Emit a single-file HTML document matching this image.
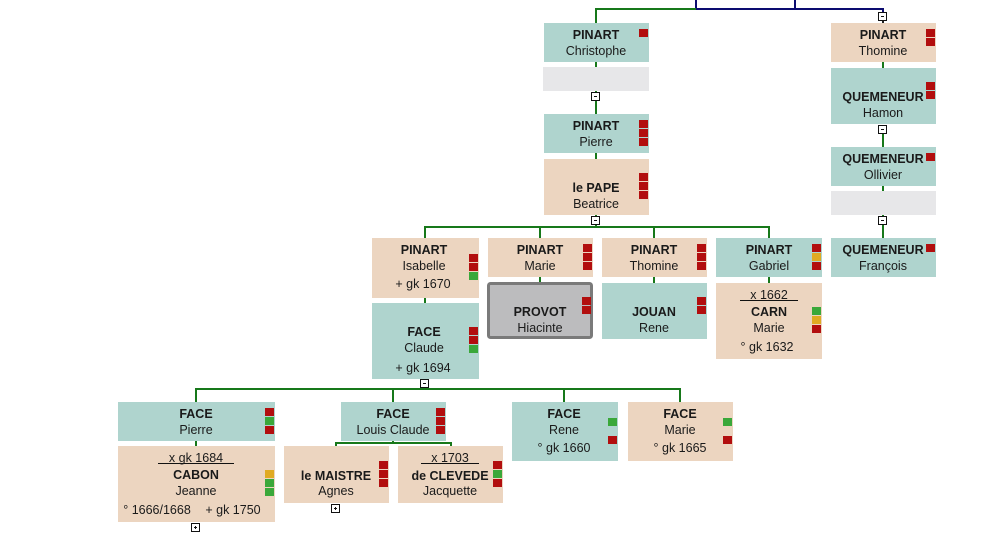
<!DOCTYPE html>
<html><head><meta charset="utf-8">
<style>
html,body{margin:0;padding:0;background:#fff;}
svg{display:block;}
text{font-family:"Liberation Sans",Arial,sans-serif;font-size:12.5px;fill:#1a1a1a;}
.b{font-weight:bold;}
.t{fill:#afd4ce;}
.e{fill:#ecd5c0;}
.g{fill:#e7e7e9;}
.r{fill:#b20e0e;}
.gr{fill:#3aa83a;}
.o{fill:#e0aa22;}
.ln{fill:#17781a;}
.nv{fill:#0c0c70;}
</style></head><body>
<svg width="998" height="540" viewBox="0 0 998 540" xmlns="http://www.w3.org/2000/svg">
<!-- navy lines -->
<rect class="nv" x="695" y="0" width="2" height="10"/>
<rect class="nv" x="794" y="0" width="2" height="10"/>
<rect class="nv" x="695" y="8" width="189" height="2"/>
<rect class="nv" x="882" y="9" width="2" height="4"/>
<rect fill="#222" x="882" y="20" width="2" height="3"/>
<!-- green lines -->
<rect class="ln" x="595" y="8" width="101" height="2"/>
<rect class="ln" x="595" y="9" width="2" height="14"/>
<rect class="ln" x="595" y="62" width="2" height="5"/>
<rect class="ln" x="595" y="91" width="2" height="23"/>
<rect class="ln" x="595" y="153" width="2" height="6"/>
<rect class="ln" x="595" y="215" width="2" height="12"/>
<rect class="ln" x="424" y="226" width="346" height="2"/>
<rect class="ln" x="424" y="227" width="2" height="11"/>
<rect class="ln" x="539" y="227" width="2" height="11"/>
<rect class="ln" x="653" y="227" width="2" height="11"/>
<rect class="ln" x="768" y="227" width="2" height="11"/>
<rect class="ln" x="424" y="298" width="2" height="5"/>
<rect class="ln" x="539" y="277" width="2" height="5"/>
<rect class="ln" x="653" y="277" width="2" height="6"/>
<rect class="ln" x="768" y="277" width="2" height="6"/>
<rect class="ln" x="423" y="379" width="2" height="10"/>
<rect class="ln" x="195" y="388" width="486" height="2"/>
<rect class="ln" x="195" y="389" width="2" height="13"/>
<rect class="ln" x="392" y="389" width="2" height="13"/>
<rect class="ln" x="563" y="389" width="2" height="13"/>
<rect class="ln" x="679" y="389" width="2" height="13"/>
<rect class="ln" x="195" y="441" width="2" height="5"/>
<rect class="ln" x="392" y="441" width="2" height="2"/>
<rect class="ln" x="335" y="442" width="117" height="2"/>
<rect class="ln" x="335" y="443" width="2" height="3"/>
<rect class="ln" x="450" y="443" width="2" height="3"/>
<rect class="ln" x="882" y="62" width="2" height="6"/>
<rect class="ln" x="882" y="133" width="2" height="14"/>
<rect class="ln" x="882" y="186" width="2" height="5"/>
<rect class="ln" x="882" y="215" width="2" height="23"/>

<!-- boxes -->
<rect class="t" x="544" y="23" width="105" height="39"/>
<rect class="g" x="543" y="67" width="106" height="24"/>
<rect class="t" x="544" y="114" width="105" height="39"/>
<rect class="e" x="544" y="159" width="105" height="56"/>
<rect class="e" x="831" y="23" width="105" height="39"/>
<rect class="t" x="831" y="68" width="105" height="56"/>
<rect class="t" x="831" y="147" width="105" height="39"/>
<rect class="g" x="831" y="191" width="105" height="24"/>
<rect class="t" x="831" y="238" width="105" height="39"/>
<rect class="e" x="372" y="238" width="107" height="60"/>
<rect class="e" x="488" y="238" width="105" height="39"/>
<rect class="e" x="602" y="238" width="105" height="39"/>
<rect class="t" x="716" y="238" width="106" height="39"/>
<rect class="t" x="372" y="303" width="107" height="76"/>
<rect x="488.5" y="283.5" width="103" height="54" rx="2" fill="#bcbcbe" stroke="#7a7a7a" stroke-width="3"/>
<rect class="t" x="602" y="283" width="105" height="56"/>
<rect class="e" x="716" y="283" width="106" height="76"/>
<rect class="t" x="118" y="402" width="157" height="39"/>
<rect class="e" x="118" y="446" width="157" height="76"/>
<rect class="t" x="341" y="402" width="105" height="39"/>
<rect class="e" x="284" y="446" width="105" height="57"/>
<rect class="e" x="398" y="446" width="105" height="57"/>
<rect class="t" x="512" y="402" width="106" height="59"/>
<rect class="e" x="628" y="402" width="105" height="59"/>

<!-- toggles -->
<g fill="#fff" stroke="#111" stroke-width="1">
<rect x="878.5" y="12.5" width="8" height="8"/>
<rect x="591.5" y="92.5" width="8" height="8"/>
<rect x="878.5" y="125.5" width="8" height="8"/>
<rect x="591.5" y="216.5" width="8" height="8"/>
<rect x="878.5" y="216.5" width="8" height="8"/>
<rect x="420.5" y="379.5" width="8" height="8"/>
<rect x="191.5" y="523.5" width="8" height="8"/>
<rect x="331.5" y="504.5" width="8" height="8"/>
</g>
<g fill="#111">
<rect x="881" y="16" width="3" height="1"/>
<rect x="594" y="96" width="3" height="1"/>
<rect x="881" y="129" width="3" height="1"/>
<rect x="594" y="220" width="3" height="1"/>
<rect x="881" y="220" width="3" height="1"/>
<rect x="423" y="383" width="3" height="1"/>
<rect x="194" y="527" width="3" height="1"/>
<rect x="195" y="526" width="1" height="3"/>
<rect x="334" y="508" width="3" height="1"/>
<rect x="335" y="507" width="1" height="3"/>
</g>

<!-- underlines -->
<rect fill="#111" x="740" y="300" width="58" height="1"/>
<rect fill="#111" x="158" y="463" width="76" height="1"/>
<rect fill="#111" x="421" y="463" width="58" height="1"/>

<!-- indicators -->
<rect class="r" x="639" y="29" width="9" height="8"/>
<rect class="r" x="639" y="120" width="9" height="8"/><rect class="r" x="639" y="129" width="9" height="8"/><rect class="r" x="639" y="138" width="9" height="8"/>
<rect class="r" x="639" y="173" width="9" height="8"/><rect class="r" x="639" y="182" width="9" height="8"/><rect class="r" x="639" y="191" width="9" height="8"/>
<rect class="r" x="926" y="29" width="9" height="8"/><rect class="r" x="926" y="38" width="9" height="8"/>
<rect class="r" x="926" y="82" width="9" height="8"/><rect class="r" x="926" y="91" width="9" height="8"/>
<rect class="r" x="926" y="153" width="9" height="8"/>
<rect class="r" x="926" y="244" width="9" height="8"/>
<rect class="r" x="469" y="254" width="9" height="8"/><rect class="r" x="469" y="263" width="9" height="8"/><rect class="gr" x="469" y="272" width="9" height="8"/>
<rect class="r" x="583" y="244" width="9" height="8"/><rect class="r" x="583" y="253" width="9" height="8"/><rect class="r" x="583" y="262" width="9" height="8"/>
<rect class="r" x="697" y="244" width="9" height="8"/><rect class="r" x="697" y="253" width="9" height="8"/><rect class="r" x="697" y="262" width="9" height="8"/>
<rect class="r" x="812" y="244" width="9" height="8"/><rect class="o" x="812" y="253" width="9" height="8"/><rect class="r" x="812" y="262" width="9" height="8"/>
<rect class="r" x="469" y="327" width="9" height="8"/><rect class="r" x="469" y="336" width="9" height="8"/><rect class="gr" x="469" y="345" width="9" height="8"/>
<rect class="r" x="582" y="297" width="9" height="8"/><rect class="r" x="582" y="306" width="9" height="8"/>
<rect class="r" x="697" y="297" width="9" height="8"/><rect class="r" x="697" y="306" width="9" height="8"/>
<rect class="gr" x="812" y="307" width="9" height="8"/><rect class="o" x="812" y="316" width="9" height="8"/><rect class="r" x="812" y="325" width="9" height="8"/>
<rect class="r" x="265" y="408" width="9" height="8"/><rect class="gr" x="265" y="417" width="9" height="8"/><rect class="r" x="265" y="426" width="9" height="8"/>
<rect class="o" x="265" y="470" width="9" height="8"/><rect class="gr" x="265" y="479" width="9" height="8"/><rect class="gr" x="265" y="488" width="9" height="8"/>
<rect class="r" x="436" y="408" width="9" height="8"/><rect class="r" x="436" y="417" width="9" height="8"/><rect class="r" x="436" y="426" width="9" height="8"/>
<rect class="r" x="379" y="461" width="9" height="8"/><rect class="r" x="379" y="470" width="9" height="8"/><rect class="r" x="379" y="479" width="9" height="8"/>
<rect class="r" x="493" y="461" width="9" height="8"/><rect class="gr" x="493" y="470" width="9" height="8"/><rect class="r" x="493" y="479" width="9" height="8"/>
<rect class="gr" x="608" y="418" width="9" height="8"/><rect class="r" x="608" y="436" width="9" height="8"/>
<rect class="gr" x="723" y="418" width="9" height="8"/><rect class="r" x="723" y="436" width="9" height="8"/>

<!-- text -->
<g text-anchor="middle">
<text class="b" x="596" y="39">PINART</text><text x="596" y="55">Christophe</text>
<text class="b" x="596" y="130">PINART</text><text x="596" y="146">Pierre</text>
<text class="b" x="596" y="192">le PAPE</text><text x="596" y="208">Beatrice</text>
<text class="b" x="883" y="39">PINART</text><text x="883" y="55">Thomine</text>
<text class="b" x="883" y="101">QUEMENEUR</text><text x="883" y="117">Hamon</text>
<text class="b" x="883" y="163">QUEMENEUR</text><text x="883" y="179">Ollivier</text>
<text class="b" x="883" y="254">QUEMENEUR</text><text x="883" y="270">François</text>
<text class="b" x="424" y="254">PINART</text><text x="424" y="270">Isabelle</text><text x="423" y="288">+ gk 1670</text>
<text class="b" x="540" y="254">PINART</text><text x="540" y="270">Marie</text>
<text class="b" x="654" y="254">PINART</text><text x="654" y="270">Thomine</text>
<text class="b" x="769" y="254">PINART</text><text x="769" y="270">Gabriel</text>
<text class="b" x="424" y="336">FACE</text><text x="424" y="352">Claude</text><text x="423" y="372">+ gk 1694</text>
<text class="b" x="540" y="316">PROVOT</text><text x="540" y="332">Hiacinte</text>
<text class="b" x="654" y="316">JOUAN</text><text x="654" y="332">Rene</text>
<text x="769" y="299">x 1662</text><text class="b" x="769" y="316">CARN</text><text x="769" y="332">Marie</text><text x="767" y="351">° gk 1632</text>
<text class="b" x="196" y="418">FACE</text><text x="196" y="434">Pierre</text>
<text x="196" y="462">x gk 1684</text><text class="b" x="196" y="479">CABON</text><text x="196" y="495">Jeanne</text>
<text x="157" y="514">° 1666/1668</text><text x="233" y="514">+ gk 1750</text>
<text class="b" x="393" y="418">FACE</text><text x="393" y="434">Louis Claude</text>
<text class="b" x="336" y="480">le MAISTRE</text><text x="336" y="495">Agnes</text>
<text x="450" y="462">x 1703</text><text class="b" x="450" y="480">de CLEVEDE</text><text x="450" y="495">Jacquette</text>
<text class="b" x="564" y="418">FACE</text><text x="564" y="434">Rene</text><text x="564" y="452">° gk 1660</text>
<text class="b" x="680" y="418">FACE</text><text x="680" y="434">Marie</text><text x="680" y="452">° gk 1665</text>
</g>
</svg>
</body></html>
